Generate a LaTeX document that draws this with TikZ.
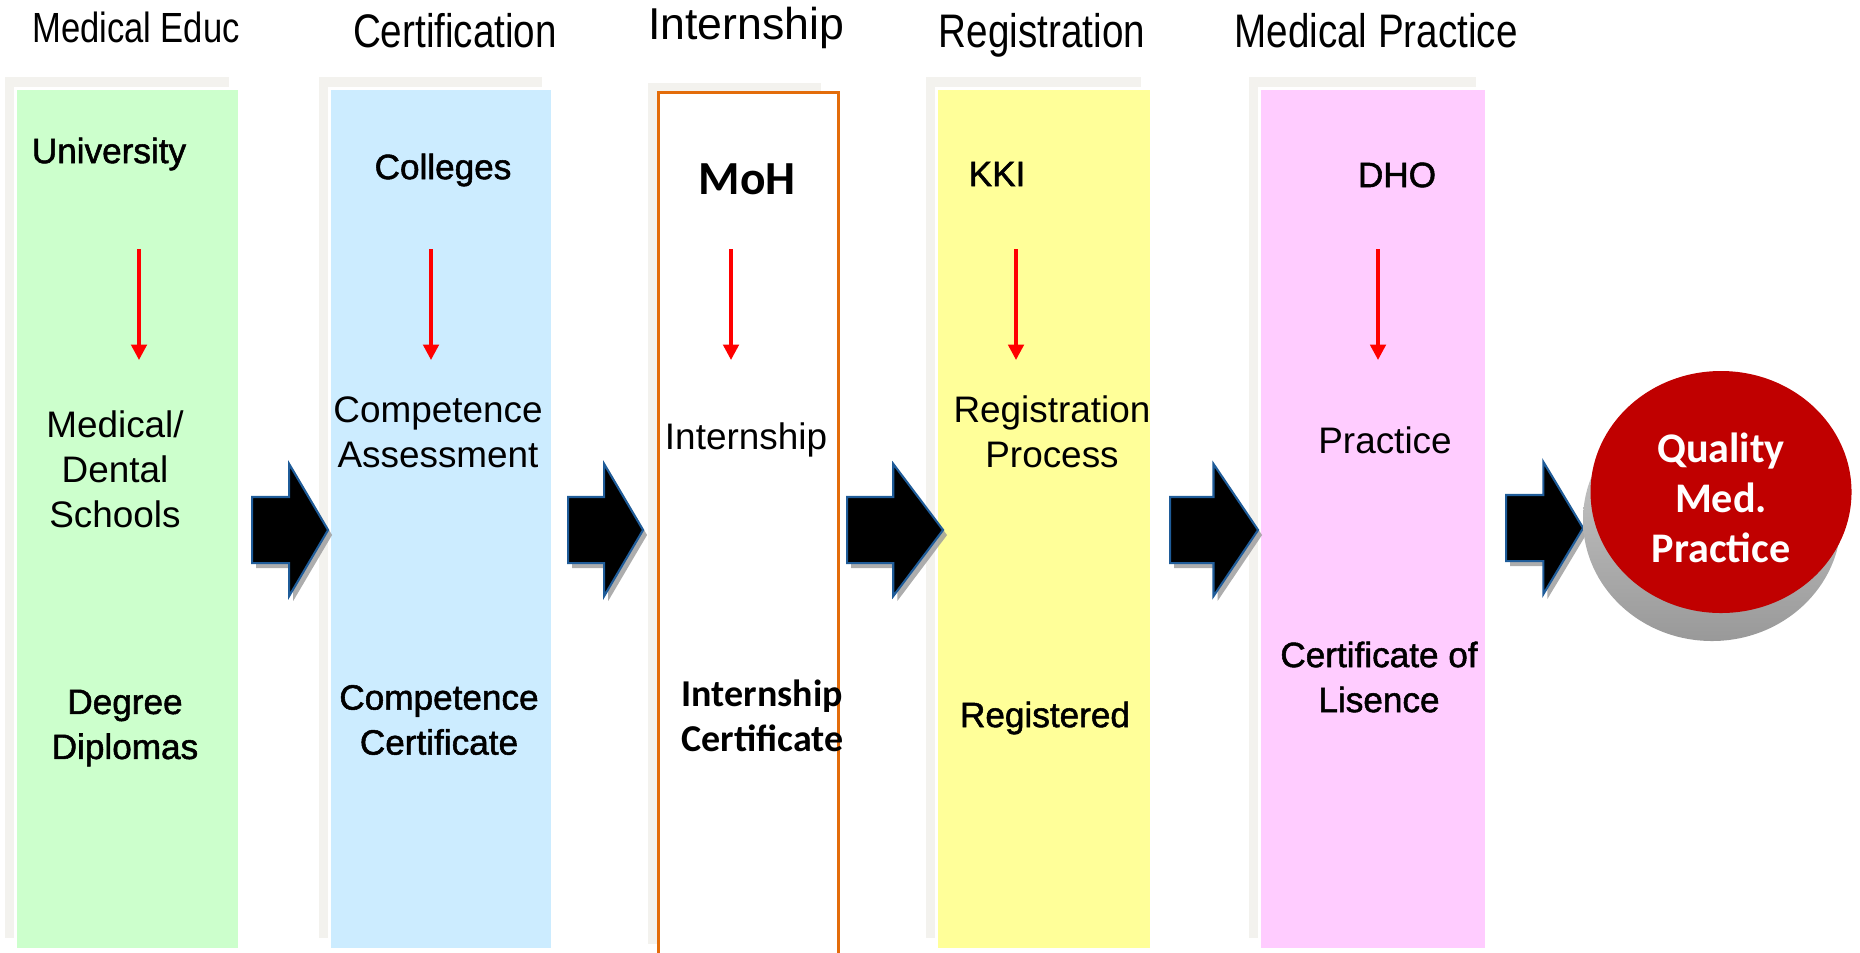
\documentclass[tikz,border=0pt]{standalone}
\usepackage{fontspec}
\setmainfont{Liberation Sans}
\newfontfamily\narrowfont[FakeStretch=0.82]{Liberation Sans}
\newfontfamily\medfont[FakeBold=1.5]{Liberation Sans}
\newfontfamily\calfont{Carlito}
\usetikzlibrary{arrows.meta,shapes.geometric,shapes.arrows,shadows}

\definecolor{edugreen}{HTML}{CCFFCC}
\definecolor{certblue}{HTML}{CCECFF}
\definecolor{regyellow}{HTML}{FFFF99}
\definecolor{practpink}{HTML}{FFCCFF}
\definecolor{backgray}{HTML}{F3F2EE}
\definecolor{internorange}{HTML}{E36C0A}
\definecolor{arrowblue}{HTML}{1F5C99}
\definecolor{discred}{HTML}{C00000}

\begin{document}
\begin{tikzpicture}[
    colbox/.style={rectangle, draw=white, line width=0.8pt, anchor=north west, inner sep=0pt, minimum height=8.61cm,
        general shadow={shadow xshift=-0.10cm, shadow yshift=0.11cm, fill=backgray}},
    title/.style={anchor=base, font=\narrowfont\fontsize{13.4}{15}\selectfont},
    plain/.style={align=center, font=\fontsize{10.5}{12.8}\selectfont},
    medium/.style={align=center, font=\medfont\fontsize{10}{12.8}\selectfont},
    calbold/.style={font=\calfont\bfseries\fontsize{12}{12.8}\selectfont},
    flow/.style={-{Triangle[length=4.4pt,width=4.4pt]}, red, line width=1pt},
    bigarrow/.style={single arrow, fill=black, draw=arrowblue, line width=0.6pt, anchor=tail,
        minimum width=1.30cm, inner xsep=0pt, inner ysep=0.32cm, single arrow head extend=0.33cm,
        drop shadow={shadow xshift=0.04cm, shadow yshift=-0.05cm, fill=gray!80, opacity=0.8}},
]
    \useasboundingbox (0,0) rectangle (18.6,-9.52);

    % stage columns
    \node[colbox, fill=edugreen, minimum width=2.24cm] (edu) at (0.14,-0.87) {};
    \node[colbox, fill=certblue, minimum width=2.23cm] (cert) at (3.28,-0.87) {};
    \node[colbox, fill=white, minimum width=1.73cm] (intern) at (6.57,-0.93) {};
    \node[draw=internorange, line width=0.75pt, anchor=north west, inner sep=0pt,
        minimum width=1.80cm, minimum height=8.9cm] (internframe) at (6.57,-0.91) {};
    \node[colbox, fill=regyellow, minimum width=2.15cm] (reg) at (9.35,-0.87) {};
    \node[colbox, fill=practpink, minimum width=2.27cm] (pract) at (12.58,-0.87) {};

    % titles
    \node[title, font=\narrowfont\fontsize{12}{14}\selectfont] (eduT) at (1.36,-0.42) {Medical Educ};
    \node[title] (certT) at (4.55,-0.47) {Certification};
    \node[anchor=base, font=\fontsize{12.7}{14}\selectfont] (internT) at (7.46,-0.39) {Internship};
    \node[title] (regT) at (10.42,-0.47) {Registration};
    \node[title] (practT) at (13.76,-0.47) {Medical Practice};

    % column texts
    \node[medium] (uni) at (1.09,-1.54) {University};
    \node[plain] (schools) at (1.15,-4.69) {Medical/\\Dental\\Schools};
    \node[medium] (degree) at (1.25,-7.28) {Degree\\Diplomas};

    \node[medium] (colleges) at (4.43,-1.70) {Colleges};
    \node[plain] (assess) at (4.38,-4.32) {Competence\\Assessment};
    \node[medium] (compcert) at (4.39,-7.20) {Competence\\Certificate};

    \node[calbold, font=\calfont\bfseries\fontsize{13.5}{14}\selectfont] (moh) at (7.47,-1.79) {MoH};
    \node[plain] (internship) at (7.46,-4.40) {Internship};
    \node[calbold, anchor=west, align=left, inner xsep=0pt, font=\calfont\bfseries\fontsize{10.8}{12.8}\selectfont]
        (interncert) at (6.81,-7.16) {Internship\\Certificate};

    \node[medium] (kki) at (9.97,-1.74) {KKI};
    \node[plain] (regproc) at (10.52,-4.32) {Registration\\Process};
    \node[medium] (registered) at (10.45,-7.18) {Registered};

    \node[medium] (dho) at (13.97,-1.75) {DHO};
    \node[plain] (practice) at (13.85,-4.40) {Practice};
    \node[medium] (licence) at (13.79,-6.77) {Certificate of\\Lisence};

    % red arrows inside the columns
    \foreach \col/\x in {edu/1.39, cert/4.31, intern/7.31, reg/10.16, pract/13.78} {
        \coordinate (\col top) at (\x,-2.49);
        \coordinate (\col bot) at (\x,-3.60);
        \draw[flow] (\col top) -- (\col bot);
    }

    % block arrows between the stages
    \node[bigarrow, minimum height=0.76cm, single arrow tip angle=119] (go1) at (2.51,-5.30) {};
    \node[bigarrow, minimum height=0.75cm, single arrow tip angle=119] (go2) at (5.67,-5.30) {};
    \node[bigarrow, minimum height=0.96cm, single arrow tip angle=106] (go3) at (8.46,-5.30) {};
    \node[bigarrow, minimum height=0.88cm, single arrow tip angle=112] (go4) at (11.69,-5.30) {};
    \node[bigarrow, minimum height=0.77cm, single arrow tip angle=118] (go5) at (15.05,-5.28) {};

    % goal disc
    \node[ellipse, minimum width=2.58cm, minimum height=2.42cm, inner sep=0pt,
        top color=gray!35, bottom color=gray!80] (base) at (17.12,-5.20) {};
    \node[ellipse, minimum width=2.61cm, minimum height=2.42cm, inner sep=0pt, fill=discred] (disc) at (17.21,-4.92) {};
    \node[calbold, text=white, align=center, font=\calfont\bfseries\fontsize{12}{14.2}\selectfont] (goal) at (17.21,-4.98)
        {Quality\\Med.\\Practice};
\end{tikzpicture}
\end{document}
